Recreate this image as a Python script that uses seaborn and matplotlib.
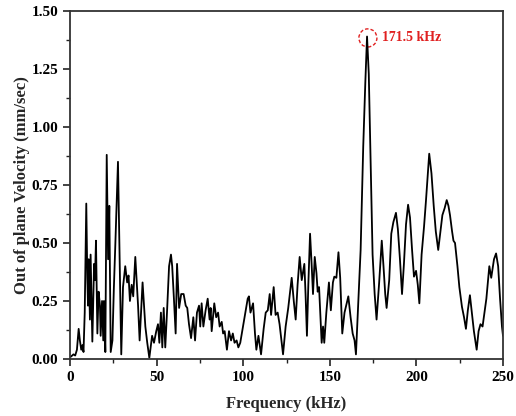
import matplotlib
matplotlib.use("Agg")
import matplotlib.pyplot as plt
from matplotlib.patches import Ellipse
from matplotlib.ticker import MultipleLocator
import seaborn as sns
import pandas as pd

freq_khz = [
    0.5, 2, 3, 4, 5, 5.7, 6.5, 7.2, 7.8, 8.5, 9.4, 10.0, 10.4, 10.8, 11.5, 11.9, 12.9, 13.9, 14.4, 15.0,
    15.8, 16.5, 17.3, 17.7, 18.5, 19.2, 19.6, 20.4, 21.2, 22.0, 22.7, 23.5, 24.5, 25.3, 26.2, 27.7, 28.7,
    29.6, 30.6, 31.9, 33.0, 33.8, 34.6, 35.6, 36.5, 37.7, 39.3, 40.2, 41.9, 43.5, 44.6, 45.8, 47.4, 48.5,
    49.8, 50.8, 51.6, 52.5, 53.3, 54.1, 55.0, 56.0, 57.2, 58.3, 59.0, 60.0, 61.0, 61.8, 63.0, 64.2, 65.6,
    66.8, 67.7, 68.7, 69.9, 71.2, 72.2, 73.3, 74.5, 75.2, 76.0, 77.0, 78.3, 79.5, 80.6, 81.2, 81.8, 83.3,
    84.4, 85.5, 86.4, 87.6, 88.4, 89.3, 90.6, 91.8, 93.0, 94.0, 95.0, 96.2, 97.2, 98.3, 99.2, 100.8, 102.6,
    103.3, 104.2, 105.7, 106.8, 107.6, 108.8, 110.3, 111.8, 113.0, 114.2, 115.3, 116.1, 117.6, 118.7,
    119.9, 121.0, 122.2, 123.0, 124.5, 126.0, 128.0, 129.2, 130.3, 131.4, 132.6, 133.8, 135.3, 136.0,
    136.8, 137.6, 138.6, 139.5, 140.3, 141.3, 142.3, 143.0, 143.8, 145.3, 146.1, 146.8, 148.0, 149.5,
    150.6, 151.8, 152.6, 153.8, 155.0, 156.0, 157.2, 158.5, 160.7, 162.0, 163.2, 164.3, 165.1, 166.2,
    167.8, 169.3, 170.5, 171.5, 172.5, 173.6, 174.7, 175.9, 177.0, 178.5, 180.0, 181.0, 182.0, 182.8,
    184.3, 185.5, 186.7, 188.2, 189.3, 190.5, 191.7, 192.8, 194.0, 195.2, 196.3, 197.5, 198.6, 199.8,
    200.8, 201.7, 203.0, 204.4, 205.5, 207.4, 208.7, 210.0, 211.2, 212.6, 213.9, 215.0, 216.3, 217.5,
    218.5, 219.4, 220.6, 221.4, 222.3, 223.7, 224.8, 226.3, 227.5, 228.6, 229.7, 230.9, 232.0, 233.2,
    234.8, 235.9, 237.0, 238.2, 239.3, 240.4, 242.1, 243.2, 244.8, 246.0, 247.2, 248.3, 249.4, 250.0,
]
velocity_mm_s = [
    0.01, 0.02, 0.015, 0.04, 0.13, 0.08, 0.04, 0.06, 0.03, 0.20, 0.67, 0.35, 0.23, 0.43, 0.17, 0.45, 0.075,
    0.41, 0.34, 0.51, 0.11, 0.29, 0.23, 0.10, 0.25, 0.08, 0.25, 0.03, 0.88, 0.43, 0.66, 0.03, 0.08, 0.30,
    0.50, 0.85, 0.42, 0.02, 0.31, 0.40, 0.33, 0.36, 0.25, 0.32, 0.27, 0.44, 0.23, 0.08, 0.33, 0.14, 0.07,
    0.005, 0.10, 0.07, 0.12, 0.15, 0.07, 0.20, 0.05, 0.22, 0.05, 0.20, 0.40, 0.45, 0.40, 0.26, 0.11, 0.41,
    0.22, 0.28, 0.28, 0.23, 0.22, 0.15, 0.09, 0.18, 0.08, 0.20, 0.23, 0.14, 0.24, 0.14, 0.21, 0.26, 0.17,
    0.22, 0.12, 0.24, 0.18, 0.20, 0.14, 0.16, 0.11, 0.12, 0.04, 0.12, 0.08, 0.11, 0.07, 0.08, 0.05, 0.07,
    0.11, 0.18, 0.26,
    0.27, 0.20, 0.24, 0.11, 0.04, 0.10, 0.02, 0.13, 0.20, 0.21, 0.28, 0.19, 0.31, 0.19, 0.20, 0.15, 0.07,
    0.02, 0.14, 0.22, 0.35, 0.25, 0.17, 0.32, 0.44, 0.34, 0.41, 0.28, 0.10, 0.32, 0.54, 0.41, 0.28, 0.44,
    0.37, 0.29, 0.31, 0.07, 0.14, 0.07, 0.20, 0.33, 0.21, 0.33, 0.355, 0.35, 0.46, 0.35, 0.11, 0.20, 0.27,
    0.18, 0.11, 0.08, 0.02, 0.20, 0.47, 0.915, 1.19, 1.39, 1.23, 0.83, 0.45, 0.28, 0.17, 0.33, 0.51, 0.40,
    0.28, 0.22, 0.34, 0.54, 0.59, 0.63, 0.56, 0.43, 0.28, 0.41, 0.58, 0.665, 0.61, 0.47, 0.355, 0.38, 0.32,
    0.24, 0.45, 0.57, 0.68, 0.885, 0.80, 0.66, 0.55, 0.47, 0.55, 0.62, 0.65, 0.685, 0.66, 0.62, 0.55, 0.51,
    0.50, 0.40, 0.31, 0.225, 0.18, 0.13, 0.21, 0.275, 0.20, 0.12, 0.04, 0.12, 0.15, 0.14, 0.20, 0.26, 0.40,
    0.35, 0.43, 0.455, 0.40, 0.26, 0.14, 0.10,
]
x_ticks = [0, 50, 100, 150, 200, 250]
y_ticks = [0.00, 0.25, 0.50, 0.75, 1.00, 1.25, 1.50]
peak_freq = 171.5
peak_label = "171.5 kHz"

sns.set_theme(style="ticks")
plt.rcParams["font.family"] = ["Liberation Serif", "DejaVu Serif"]
plt.rcParams["font.weight"] = "bold"

df = pd.DataFrame({"Frequency": freq_khz, "Velocity": velocity_mm_s})

fig = plt.figure(figsize=(5.16, 4.16), dpi=100)
ax = fig.add_axes([70 / 516, 1 - 359 / 416, 433 / 516, 348 / 416])

sns.lineplot(data=df, x="Frequency", y="Velocity", ax=ax, color="black",
             linewidth=1.3, sort=False, estimator=None)

ax.set_xlim(0, 250)
ax.set_ylim(0, 1.5)
ax.set_xticks(x_ticks)
ax.set_yticks(y_ticks)
ax.set_xticklabels([str(t) for t in x_ticks], fontsize=11, fontweight="bold")
ax.set_yticklabels([f"{t:.2f}" for t in y_ticks], fontsize=11, fontweight="bold")
ax.xaxis.set_minor_locator(MultipleLocator(25))
ax.yaxis.set_minor_locator(MultipleLocator(0.125))
ax.tick_params(which="major", direction="out", length=5, width=1.2, colors="#222222", labelcolor="black")
ax.tick_params(which="minor", direction="out", length=3, width=1.0, colors="#222222")
for s in ax.spines.values():
    s.set_visible(True)
    s.set_linewidth(1.3)
    s.set_color("#333333")

ax.set_xlabel("Frequency (kHz)", fontsize=12, fontweight="bold", labelpad=9)
ax.set_ylabel("Out of plane Velocity (mm/sec)", fontsize=12, fontweight="bold", labelpad=1)

# annotation circle around the peak
ax.add_patch(Ellipse((172.0, 1.384), width=10.4, height=0.078, fill=False,
                     edgecolor="#e02020", linestyle=(0, (2.5, 1.5)), linewidth=1.0))
ax.text(180.0, 1.384, peak_label, color="#e02020", fontsize=10, fontweight="bold",
        va="center", ha="left")

fig.savefig("out.png", dpi=100)
